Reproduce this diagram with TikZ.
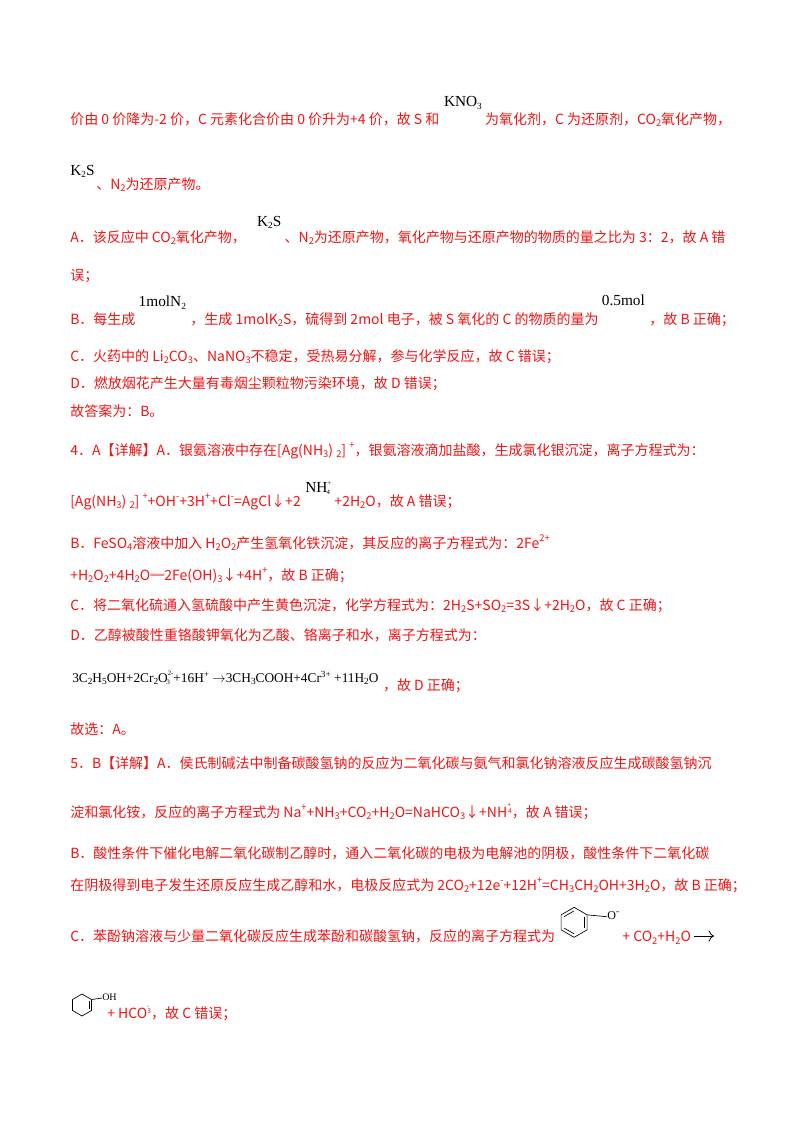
\documentclass[tikz,border=0pt]{standalone}
\usepackage{fontspec}
\usetikzlibrary{calc,arrows.meta}
\setmainfont{Noto Sans CJK SC}
\newfontfamily\tmf{Liberation Serif}
\definecolor{txtred}{RGB}{240,20,20}
\newcommand{\dn}[1]{\raisebox{-0.35ex}{\scriptsize #1}}
\newcommand{\upx}[1]{\raisebox{0.8ex}{\scriptsize #1}}
\begin{document}
\begin{tikzpicture}[x=0.75pt,y=-0.75pt,
  ln/.style={anchor=base west,inner sep=0,text=txtred,font=\fontsize{10.5}{12}\selectfont},
  ch/.style={anchor=base west,inner sep=0,text=black,font=\tmf\fontsize{11.5}{13}\selectfont},
  ring/.style={draw=black,line width=0.5pt}]
\useasboundingbox (0,0) rectangle (800,1132);
\node[ln] (l1) at (70,124) {价由 0 价降为-2 价，C 元素化合价由 0 价升为+4 价，故 S 和};
\node[ch] (k1) at ([xshift=3pt,yshift=13pt]l1.base east) {KNO\dn{3}};
\node[ln] (l1b) at ([xshift=2pt,yshift=-13pt]k1.base east) {为氧化剂，C 为还原剂，CO\dn{2}氧化产物，};
\node[ch] (k2) at (70,175) {K\dn{2}S};
\node[ln] (l2) at (96,189) {、N\dn{2}为还原产物。};
\node[ln] (l3) at (70,242) {A．该反应中 CO\dn{2}氧化产物，};
\node[ch] (k3) at ([xshift=8pt,yshift=12pt]l3.base east) {K\dn{2}S};
\node[ln] (l3b) at ([xshift=2pt,yshift=-12pt]k3.base east) {、N\dn{2}为还原产物，氧化产物与还原产物的物质的量之比为 3：2，故 A 错};
\node[ln] (l4) at (70,280) {误；};
\node[ln] (l5) at (70,324) {B．每生成};
\node[ch] (m1) at ([xshift=2pt,yshift=13pt]l5.base east) {1molN\dn{2}};
\node[ln] (l5b) at ([xshift=3pt,yshift=-13pt]m1.base east) {，生成 1molK\dn{2}S，硫得到 2mol 电子，被 S 氧化的 C 的物质的量为};
\node[ch] (m2) at ([xshift=2pt,yshift=14pt]l5b.base east) {0.5mol};
\node[ln] (l5c) at ([xshift=3pt,yshift=-14pt]m2.base east) {，故 B 正确；};
\node[ln] (l6) at (70,361) {C．火药中的 Li\dn{2}CO\dn{3}、NaNO\dn{3}不稳定，受热易分解，参与化学反应，故 C 错误；};
\node[ln] (l7) at (70,388) {D．燃放烟花产生大量有毒烟尘颗粒物污染环境，故 D 错误；};
\node[ln] (l8) at (70,416) {故答案为：B。};
\node[ln] (l9) at (70,455) {4．A【详解】A．银氨溶液中存在[Ag(NH\dn{3}) \dn{2}] \upx{+}，银氨溶液滴加盐酸，生成氯化银沉淀，离子方程式为：};
\node[ln] (l10) at (70,506) {[Ag(NH\dn{3}) \dn{2}] \upx{+}+OH\upx{-}+3H\upx{+}+Cl\upx{-}=AgCl↓+2};
\node[ch] (n1) at ([xshift=3pt,yshift=10pt]l10.base east) {NH\raisebox{1ex}{\tiny +}\hspace{-0.3em}\raisebox{-0.3ex}{\tiny 4}};
\node[ln] (l10b) at ([xshift=3pt,yshift=-10pt]n1.base east) {+2H\dn{2}O，故 A 错误；};
\node[ln] (l11) at (70,548) {B．FeSO\dn{4}溶液中加入 H\dn{2}O\dn{2}产生氢氧化铁沉淀，其反应的离子方程式为：2Fe\upx{2+}};
\node[ln] (l12) at (70,580) {+H\dn{2}O\dn{2}+4H\dn{2}O═2Fe(OH)\dn{3}↓+4H\upx{+}，故 B 正确；};
\node[ln] (l13) at (70,610) {C．将二氧化硫通入氢硫酸中产生黄色沉淀，化学方程式为：2H\dn{2}S+SO\dn{2}=3S↓+2H\dn{2}O，故 C 正确；};
\node[ln] (l14) at (70,640) {D．乙醇被酸性重铬酸钾氧化为乙酸、铬离子和水，离子方程式为：};
\node[ch,font=\tmf\fontsize{10}{12}\selectfont] (e1) at (72,682) {3C\dn{2}H\dn{5}OH+2Cr\dn{2}O\raisebox{1ex}{\tiny 2-}\hspace{-0.5em}\raisebox{-0.4ex}{\tiny 3} +16H\upx{+} $\rightarrow$3CH\dn{3}COOH+4Cr\upx{3+} +11H\dn{2}O};
\node[ln] (l15) at ([xshift=3pt,yshift=-6pt]e1.base east) {，故 D 正确；};
\node[ln] (l16) at (70,734) {故选：A。};
\node[ln] (l17) at (70,768) {5．B【详解】A．侯氏制碱法中制备碳酸氢钠的反应为二氧化碳与氨气和氯化钠溶液反应生成碳酸氢钠沉};
\node[ln] (l18) at (70,817) {淀和氯化铵，反应的离子方程式为 Na\upx{+}+NH\dn{3}+CO\dn{2}+H\dn{2}O=NaHCO\dn{3}↓+NH\raisebox{1.3ex}{\tiny +}\hspace{-0.2em}\raisebox{0.5ex}{\tiny 4}，故 A 错误；};
\node[ln] (l19) at (70,858) {B．酸性条件下催化电解二氧化碳制乙醇时，通入二氧化碳的电极为电解池的阴极，酸性条件下二氧化碳};
\node[ln] (l20) at (70,890) {在阴极得到电子发生还原反应生成乙醇和水，电极反应式为 2CO\dn{2}+12e\upx{-}+12H\upx{+}=CH\dn{3}CH\dn{2}OH+3H\dn{2}O，故 B 正确；};
\node[ln] (l21) at (70,941) {C．苯酚钠溶液与少量二氧化碳反应生成苯酚和碳酸氢钠，反应的离子方程式为};
\coordinate (r1) at ([xshift=14pt,yshift=14pt]l21.base east);
\draw[ring] (r1) +(30:15) -- +(90:15) -- +(150:15) -- +(210:15) -- +(270:15) -- +(330:15) -- cycle;
\draw[ring] (r1) +(330:11.5) -- +(30:11.5);
\draw[ring] (r1) +(90:11.5) -- +(150:11.5);
\draw[ring] (r1) +(210:11.5) -- +(270:11.5);
\node[ch,font=\tmf\fontsize{9}{10}\selectfont] (ox) at ($(r1)+(33,-3)$) {O\upx{-}};
\draw[ring] ($(r1)+(330:15)$) -- ([yshift=-1pt]ox.west);
\node[ln] (l21b) at ($(r1)+(48,19)$) {+ CO\dn{2}+H\dn{2}O};
\coordinate (arw) at (714,936);
\draw[black,line width=0.6pt,-{To[length=4pt]}] ([xshift=2pt]l21b.east|-arw) -- (arw);
\coordinate (r2) at (82,1005);
\draw[ring] (r2) +(30:11) -- +(90:11) -- +(150:11) -- +(210:11) -- +(270:11) -- +(330:11) -- cycle;
\draw[ring] (r2) +(330:8) -- +(30:8);
\node[ch,font=\tmf\fontsize{7.5}{9}\selectfont] (oh) at (102,1000) {OH};
\draw[ring] ($(r2)+(330:11)$) -- ([yshift=-1pt]oh.west);
\node[ln] (l22) at (107,1018) {+ HCO\raisebox{1.3ex}{\tiny -}\hspace{-0.15em}\raisebox{0.6ex}{\tiny 3}，故 C 错误；};
\end{tikzpicture}
\end{document}
